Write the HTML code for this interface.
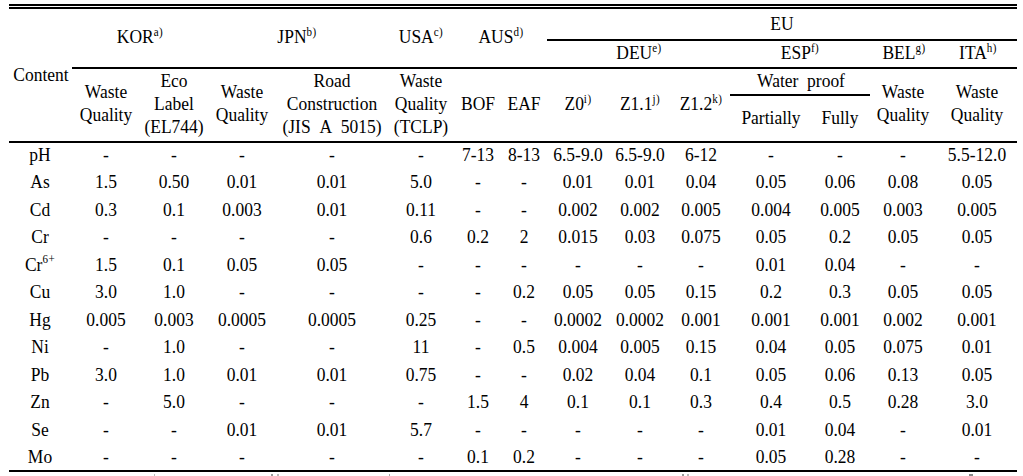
<!DOCTYPE html>
<html><head><meta charset="utf-8"><style>
html,body{margin:0;padding:0;background:#fff;width:1023px;height:476px;overflow:hidden;position:relative}
.t{position:absolute;white-space:nowrap;font-family:"Liberation Serif",serif;font-size:19px;line-height:19px;color:#000;transform-origin:0 0;transform:scaleX(0.92) translateX(-50%)}
.s{font-size:12px;position:relative;top:-7px;letter-spacing:0.5px}
.r{position:absolute;background:#000}
</style></head><body>

<div class="r" style="left:9px;top:4px;width:1008px;height:2px"></div>
<div class="r" style="left:9px;top:7px;width:1008px;height:2px"></div>
<div class="r" style="left:547px;top:39px;width:470px;height:2px"></div>
<div class="r" style="left:72px;top:67px;width:945px;height:2px"></div>
<div class="r" style="left:730px;top:94px;width:140px;height:2px"></div>
<div class="r" style="left:9px;top:141px;width:1008px;height:2px"></div>
<div class="r" style="left:9px;top:470px;width:1008px;height:2px"></div>
<div class="r" style="left:154px;top:474px;width:1px;height:2px;background:#bbb"></div>
<div class="r" style="left:271px;top:474px;width:2px;height:2px;background:#999"></div>
<div class="r" style="left:277px;top:474px;width:2px;height:2px;background:#bbb"></div>
<div class="r" style="left:389px;top:474px;width:1px;height:2px;background:#aaa"></div>
<div class="r" style="left:682px;top:474px;width:2px;height:2px;background:#999"></div>
<div class="r" style="left:687px;top:474px;width:2px;height:2px;background:#bbb"></div>
<div class="r" style="left:969px;top:474px;width:4px;height:2px;background:#888"></div>
<div class="t" style="left:139.6px;top:27.0px">KOR<span class="s">a)</span></div>
<div class="t" style="left:297.2px;top:27.0px">JPN<span class="s">b)</span></div>
<div class="t" style="left:420.9px;top:27.0px">USA<span class="s">c)</span></div>
<div class="t" style="left:500.8px;top:27.0px">AUS<span class="s">d)</span></div>
<div class="t" style="left:782.0px;top:14.0px">EU</div>
<div class="t" style="left:638.5px;top:43.0px">DEU<span class="s">e)</span></div>
<div class="t" style="left:800.0px;top:43.0px">ESP<span class="s">f)</span></div>
<div class="t" style="left:903.5px;top:43.0px">BEL<span class="s">g)</span></div>
<div class="t" style="left:977.7px;top:43.0px">ITA<span class="s">h)</span></div>
<div class="t" style="left:40.5px;top:65.0px">Content</div>
<div class="t" style="left:105.9px;top:82.0px">Waste</div>
<div class="t" style="left:105.9px;top:105.0px">Quality</div>
<div class="t" style="left:241.6px;top:82.0px">Waste</div>
<div class="t" style="left:241.6px;top:105.0px">Quality</div>
<div class="t" style="left:903.3px;top:82.0px">Waste</div>
<div class="t" style="left:903.3px;top:105.0px">Quality</div>
<div class="t" style="left:977.3px;top:82.0px">Waste</div>
<div class="t" style="left:977.3px;top:105.0px">Quality</div>
<div class="t" style="left:174.4px;top:71.0px">Eco</div>
<div class="t" style="left:174.4px;top:94.0px">Label</div>
<div class="t" style="left:174.4px;top:117.0px">(EL744)</div>
<div class="t" style="left:331.6px;top:71.0px">Road</div>
<div class="t" style="left:331.6px;top:94.0px">Construction</div>
<div class="t" style="left:331.6px;top:117.0px">(JIS&nbsp;&nbsp;A&nbsp;&nbsp;5015)</div>
<div class="t" style="left:420.9px;top:71.0px">Waste</div>
<div class="t" style="left:420.9px;top:94.0px">Quality</div>
<div class="t" style="left:420.9px;top:117.0px">(TCLP)</div>
<div class="t" style="left:477.8px;top:94.0px">BOF</div>
<div class="t" style="left:524.0px;top:94.0px">EAF</div>
<div class="t" style="left:578.0px;top:94.0px">Z0<span class="s">i)</span></div>
<div class="t" style="left:640.3px;top:94.0px">Z1.1<span class="s">j)</span></div>
<div class="t" style="left:701.0px;top:94.0px">Z1.2<span class="s">k)</span></div>
<div class="t" style="left:800.5px;top:71.0px">Water&nbsp;&nbsp;proof</div>
<div class="t" style="left:770.5px;top:108.0px">Partially</div>
<div class="t" style="left:840.3px;top:108.0px">Fully</div>
<div class="t" style="left:40.0px;top:145.0px">pH</div>
<div class="t" style="left:105.9px;top:145.0px">-</div>
<div class="t" style="left:174.4px;top:145.0px">-</div>
<div class="t" style="left:241.6px;top:145.0px">-</div>
<div class="t" style="left:331.6px;top:145.0px">-</div>
<div class="t" style="left:420.9px;top:145.0px">-</div>
<div class="t" style="left:477.8px;top:145.0px">7-13</div>
<div class="t" style="left:524.0px;top:145.0px">8-13</div>
<div class="t" style="left:578.0px;top:145.0px">6.5-9.0</div>
<div class="t" style="left:640.3px;top:145.0px">6.5-9.0</div>
<div class="t" style="left:701.0px;top:145.0px">6-12</div>
<div class="t" style="left:770.5px;top:145.0px">-</div>
<div class="t" style="left:840.3px;top:145.0px">-</div>
<div class="t" style="left:903.3px;top:145.0px">-</div>
<div class="t" style="left:977.3px;top:145.0px">5.5-12.0</div>
<div class="t" style="left:40.0px;top:172.0px">As</div>
<div class="t" style="left:105.9px;top:172.0px">1.5</div>
<div class="t" style="left:174.4px;top:172.0px">0.50</div>
<div class="t" style="left:241.6px;top:172.0px">0.01</div>
<div class="t" style="left:331.6px;top:172.0px">0.01</div>
<div class="t" style="left:420.9px;top:172.0px">5.0</div>
<div class="t" style="left:477.8px;top:172.0px">-</div>
<div class="t" style="left:524.0px;top:172.0px">-</div>
<div class="t" style="left:578.0px;top:172.0px">0.01</div>
<div class="t" style="left:640.3px;top:172.0px">0.01</div>
<div class="t" style="left:701.0px;top:172.0px">0.04</div>
<div class="t" style="left:770.5px;top:172.0px">0.05</div>
<div class="t" style="left:840.3px;top:172.0px">0.06</div>
<div class="t" style="left:903.3px;top:172.0px">0.08</div>
<div class="t" style="left:977.3px;top:172.0px">0.05</div>
<div class="t" style="left:40.0px;top:200.0px">Cd</div>
<div class="t" style="left:105.9px;top:200.0px">0.3</div>
<div class="t" style="left:174.4px;top:200.0px">0.1</div>
<div class="t" style="left:241.6px;top:200.0px">0.003</div>
<div class="t" style="left:331.6px;top:200.0px">0.01</div>
<div class="t" style="left:420.9px;top:200.0px">0.11</div>
<div class="t" style="left:477.8px;top:200.0px">-</div>
<div class="t" style="left:524.0px;top:200.0px">-</div>
<div class="t" style="left:578.0px;top:200.0px">0.002</div>
<div class="t" style="left:640.3px;top:200.0px">0.002</div>
<div class="t" style="left:701.0px;top:200.0px">0.005</div>
<div class="t" style="left:770.5px;top:200.0px">0.004</div>
<div class="t" style="left:840.3px;top:200.0px">0.005</div>
<div class="t" style="left:903.3px;top:200.0px">0.003</div>
<div class="t" style="left:977.3px;top:200.0px">0.005</div>
<div class="t" style="left:40.0px;top:227.0px">Cr</div>
<div class="t" style="left:105.9px;top:227.0px">-</div>
<div class="t" style="left:174.4px;top:227.0px">-</div>
<div class="t" style="left:241.6px;top:227.0px">-</div>
<div class="t" style="left:331.6px;top:227.0px">-</div>
<div class="t" style="left:420.9px;top:227.0px">0.6</div>
<div class="t" style="left:477.8px;top:227.0px">0.2</div>
<div class="t" style="left:524.0px;top:227.0px">2</div>
<div class="t" style="left:578.0px;top:227.0px">0.015</div>
<div class="t" style="left:640.3px;top:227.0px">0.03</div>
<div class="t" style="left:701.0px;top:227.0px">0.075</div>
<div class="t" style="left:770.5px;top:227.0px">0.05</div>
<div class="t" style="left:840.3px;top:227.0px">0.2</div>
<div class="t" style="left:903.3px;top:227.0px">0.05</div>
<div class="t" style="left:977.3px;top:227.0px">0.05</div>
<div class="t" style="left:40.0px;top:255.0px">Cr<span class="s" style="top:-8px">6+</span></div>
<div class="t" style="left:105.9px;top:255.0px">1.5</div>
<div class="t" style="left:174.4px;top:255.0px">0.1</div>
<div class="t" style="left:241.6px;top:255.0px">0.05</div>
<div class="t" style="left:331.6px;top:255.0px">0.05</div>
<div class="t" style="left:420.9px;top:255.0px">-</div>
<div class="t" style="left:477.8px;top:255.0px">-</div>
<div class="t" style="left:524.0px;top:255.0px">-</div>
<div class="t" style="left:578.0px;top:255.0px">-</div>
<div class="t" style="left:640.3px;top:255.0px">-</div>
<div class="t" style="left:701.0px;top:255.0px">-</div>
<div class="t" style="left:770.5px;top:255.0px">0.01</div>
<div class="t" style="left:840.3px;top:255.0px">0.04</div>
<div class="t" style="left:903.3px;top:255.0px">-</div>
<div class="t" style="left:977.3px;top:255.0px">-</div>
<div class="t" style="left:40.0px;top:282.0px">Cu</div>
<div class="t" style="left:105.9px;top:282.0px">3.0</div>
<div class="t" style="left:174.4px;top:282.0px">1.0</div>
<div class="t" style="left:241.6px;top:282.0px">-</div>
<div class="t" style="left:331.6px;top:282.0px">-</div>
<div class="t" style="left:420.9px;top:282.0px">-</div>
<div class="t" style="left:477.8px;top:282.0px">-</div>
<div class="t" style="left:524.0px;top:282.0px">0.2</div>
<div class="t" style="left:578.0px;top:282.0px">0.05</div>
<div class="t" style="left:640.3px;top:282.0px">0.05</div>
<div class="t" style="left:701.0px;top:282.0px">0.15</div>
<div class="t" style="left:770.5px;top:282.0px">0.2</div>
<div class="t" style="left:840.3px;top:282.0px">0.3</div>
<div class="t" style="left:903.3px;top:282.0px">0.05</div>
<div class="t" style="left:977.3px;top:282.0px">0.05</div>
<div class="t" style="left:40.0px;top:310.0px">Hg</div>
<div class="t" style="left:105.9px;top:310.0px">0.005</div>
<div class="t" style="left:174.4px;top:310.0px">0.003</div>
<div class="t" style="left:241.6px;top:310.0px">0.0005</div>
<div class="t" style="left:331.6px;top:310.0px">0.0005</div>
<div class="t" style="left:420.9px;top:310.0px">0.25</div>
<div class="t" style="left:477.8px;top:310.0px">-</div>
<div class="t" style="left:524.0px;top:310.0px">-</div>
<div class="t" style="left:578.0px;top:310.0px">0.0002</div>
<div class="t" style="left:640.3px;top:310.0px">0.0002</div>
<div class="t" style="left:701.0px;top:310.0px">0.001</div>
<div class="t" style="left:770.5px;top:310.0px">0.001</div>
<div class="t" style="left:840.3px;top:310.0px">0.001</div>
<div class="t" style="left:903.3px;top:310.0px">0.002</div>
<div class="t" style="left:977.3px;top:310.0px">0.001</div>
<div class="t" style="left:40.0px;top:337.0px">Ni</div>
<div class="t" style="left:105.9px;top:337.0px">-</div>
<div class="t" style="left:174.4px;top:337.0px">1.0</div>
<div class="t" style="left:241.6px;top:337.0px">-</div>
<div class="t" style="left:331.6px;top:337.0px">-</div>
<div class="t" style="left:420.9px;top:337.0px">11</div>
<div class="t" style="left:477.8px;top:337.0px">-</div>
<div class="t" style="left:524.0px;top:337.0px">0.5</div>
<div class="t" style="left:578.0px;top:337.0px">0.004</div>
<div class="t" style="left:640.3px;top:337.0px">0.005</div>
<div class="t" style="left:701.0px;top:337.0px">0.15</div>
<div class="t" style="left:770.5px;top:337.0px">0.04</div>
<div class="t" style="left:840.3px;top:337.0px">0.05</div>
<div class="t" style="left:903.3px;top:337.0px">0.075</div>
<div class="t" style="left:977.3px;top:337.0px">0.01</div>
<div class="t" style="left:40.0px;top:365.0px">Pb</div>
<div class="t" style="left:105.9px;top:365.0px">3.0</div>
<div class="t" style="left:174.4px;top:365.0px">1.0</div>
<div class="t" style="left:241.6px;top:365.0px">0.01</div>
<div class="t" style="left:331.6px;top:365.0px">0.01</div>
<div class="t" style="left:420.9px;top:365.0px">0.75</div>
<div class="t" style="left:477.8px;top:365.0px">-</div>
<div class="t" style="left:524.0px;top:365.0px">-</div>
<div class="t" style="left:578.0px;top:365.0px">0.02</div>
<div class="t" style="left:640.3px;top:365.0px">0.04</div>
<div class="t" style="left:701.0px;top:365.0px">0.1</div>
<div class="t" style="left:770.5px;top:365.0px">0.05</div>
<div class="t" style="left:840.3px;top:365.0px">0.06</div>
<div class="t" style="left:903.3px;top:365.0px">0.13</div>
<div class="t" style="left:977.3px;top:365.0px">0.05</div>
<div class="t" style="left:40.0px;top:392.0px">Zn</div>
<div class="t" style="left:105.9px;top:392.0px">-</div>
<div class="t" style="left:174.4px;top:392.0px">5.0</div>
<div class="t" style="left:241.6px;top:392.0px">-</div>
<div class="t" style="left:331.6px;top:392.0px">-</div>
<div class="t" style="left:420.9px;top:392.0px">-</div>
<div class="t" style="left:477.8px;top:392.0px">1.5</div>
<div class="t" style="left:524.0px;top:392.0px">4</div>
<div class="t" style="left:578.0px;top:392.0px">0.1</div>
<div class="t" style="left:640.3px;top:392.0px">0.1</div>
<div class="t" style="left:701.0px;top:392.0px">0.3</div>
<div class="t" style="left:770.5px;top:392.0px">0.4</div>
<div class="t" style="left:840.3px;top:392.0px">0.5</div>
<div class="t" style="left:903.3px;top:392.0px">0.28</div>
<div class="t" style="left:977.3px;top:392.0px">3.0</div>
<div class="t" style="left:40.0px;top:420.0px">Se</div>
<div class="t" style="left:105.9px;top:420.0px">-</div>
<div class="t" style="left:174.4px;top:420.0px">-</div>
<div class="t" style="left:241.6px;top:420.0px">0.01</div>
<div class="t" style="left:331.6px;top:420.0px">0.01</div>
<div class="t" style="left:420.9px;top:420.0px">5.7</div>
<div class="t" style="left:477.8px;top:420.0px">-</div>
<div class="t" style="left:524.0px;top:420.0px">-</div>
<div class="t" style="left:578.0px;top:420.0px">-</div>
<div class="t" style="left:640.3px;top:420.0px">-</div>
<div class="t" style="left:701.0px;top:420.0px">-</div>
<div class="t" style="left:770.5px;top:420.0px">0.01</div>
<div class="t" style="left:840.3px;top:420.0px">0.04</div>
<div class="t" style="left:903.3px;top:420.0px">-</div>
<div class="t" style="left:977.3px;top:420.0px">0.01</div>
<div class="t" style="left:40.0px;top:447.0px">Mo</div>
<div class="t" style="left:105.9px;top:447.0px">-</div>
<div class="t" style="left:174.4px;top:447.0px">-</div>
<div class="t" style="left:241.6px;top:447.0px">-</div>
<div class="t" style="left:331.6px;top:447.0px">-</div>
<div class="t" style="left:420.9px;top:447.0px">-</div>
<div class="t" style="left:477.8px;top:447.0px">0.1</div>
<div class="t" style="left:524.0px;top:447.0px">0.2</div>
<div class="t" style="left:578.0px;top:447.0px">-</div>
<div class="t" style="left:640.3px;top:447.0px">-</div>
<div class="t" style="left:701.0px;top:447.0px">-</div>
<div class="t" style="left:770.5px;top:447.0px">0.05</div>
<div class="t" style="left:840.3px;top:447.0px">0.28</div>
<div class="t" style="left:903.3px;top:447.0px">-</div>
<div class="t" style="left:977.3px;top:447.0px">-</div>
</body></html>
